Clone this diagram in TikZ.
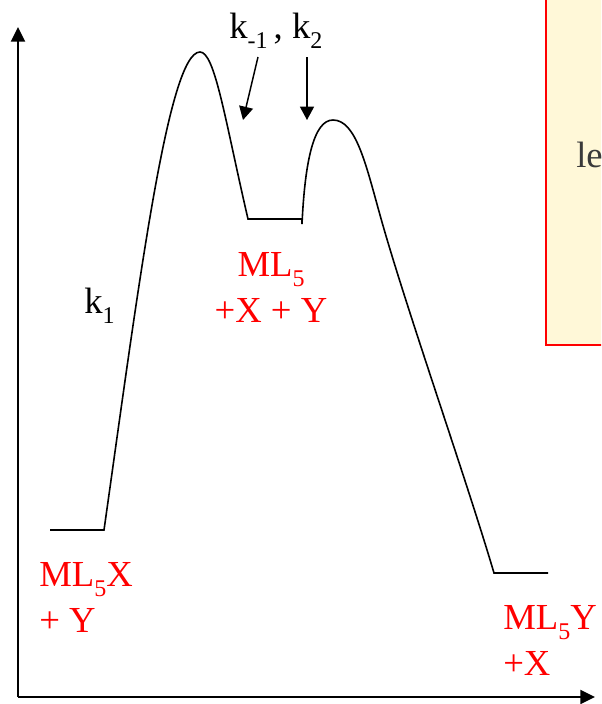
\documentclass[tikz,border=0pt]{standalone}
\usepackage{fontspec}
\setmainfont{Liberation Serif}
\usetikzlibrary{arrows.meta}
\definecolor{species}{HTML}{FF0000}
\definecolor{notefill}{HTML}{FFF8D8}
\definecolor{notetext}{HTML}{3A3A3A}
\newcommand{\lowidx}[1]{\raisebox{-0.28em}{\fontsize{18}{18}\selectfont #1}}

\begin{document}
\begin{tikzpicture}[x=0.75pt, y=-0.75pt,
  ax/.style={-{Triangle[length=11pt, width=10.5pt]}, line width=1.5pt},
  curve/.style={line width=1.2pt},
  arr/.style={-{Triangle[length=10pt, width=10.5pt]}, line width=1.1pt},
  lab/.style={font=\fontsize{27.5}{34}\selectfont, inner sep=0pt},
  spec/.style={lab, text=species},
]
\useasboundingbox (0,0) rectangle (601,704);
\begin{scope}
\clip (0,0) rectangle (601,704);
\draw[species, line width=1.2pt, fill=notefill] (546,-10) rectangle (620,345);
\node[lab, text=notetext, anchor=base west] (note) at (576,167) {le};
\end{scope}
% axes
\coordinate (origin) at (18,697);
\coordinate (ytip) at (18,27);
\coordinate (xtip) at (595,697);
\draw[ax] (origin) -- (ytip);
\draw[ax] (origin) -- (xtip);
% energy profile
\draw[curve] (50,530) -- (104,530)
  .. controls (138,290) and (168,52) .. (200,52)
  .. controls (215,52) and (225,120) .. (248,219) -- (302,219)
  -- (302,224) .. controls (305,160) and (314,120) .. (333,120)
  .. controls (356,120) and (366,165) .. (380,215)
  .. controls (405,305) and (465,475) .. (494,573) -- (548,573);
% labels
\node[lab, anchor=base west] (kone) at (84,313) {k\lowidx{1}};
\node[lab, anchor=base west] (ktop) at (229,38) {k\lowidx{-1}\,, k\lowidx{2}};
\coordinate (kmone) at (258,57);
\coordinate (ktwo) at (307,57);
\coordinate (dip) at (243,120);
\coordinate (hump) at (307,120);
\draw[arr] (kmone) -- (dip);
\draw[arr] (ktwo) -- (hump);
\node[spec, anchor=base west, align=left] (react) at (39,632) {ML\lowidx{5}X\\+ Y};
\node[spec, anchor=base, align=center] (inter) at (271,322) {ML\lowidx{5}\\+X + Y};
\node[spec, anchor=base west, align=left] (prod) at (503,675) {ML\lowidx{5}Y\\+X};
\end{tikzpicture}
\end{document}
